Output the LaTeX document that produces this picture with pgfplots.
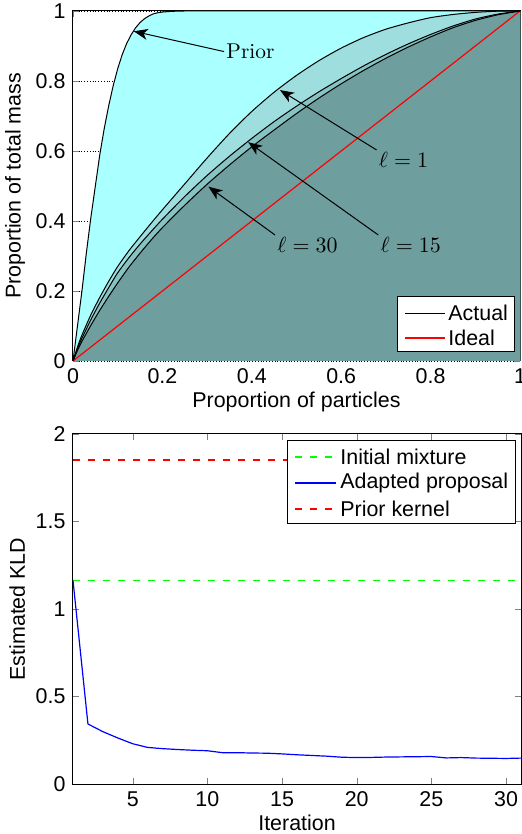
\documentclass[border=0pt]{standalone}
\usepackage{fontspec}
\setsansfont{Liberation Sans}
\usepackage{pgfplots}
\pgfplotsset{compat=1.18}
\usetikzlibrary{arrows.meta}
\definecolor{priorc}{RGB}{170,255,255}
\definecolor{lonec}{RGB}{158,222,222}
\definecolor{lfifc}{RGB}{135,195,195}
\definecolor{lthic}{RGB}{111,158,158}
\pgfplotsset{
  common/.style={
    scale only axis,
    /pgf/number format/assume math mode=true,
    tick align=inside,
    major tick length=3pt,
    axis line style={line width=0.5pt},
    ylabel style={yshift=-2pt},
    xlabel style={yshift=3pt},
  }
}
\tikzset{arr/.style={-{Stealth[length=7pt,width=5.5pt,inset=2pt]}, line width=0.5pt}}
\begin{document}
\sffamily\fontsize{10.7pt}{13pt}\selectfont
\begin{tikzpicture}
\useasboundingbox (-36.5pt,-25pt) rectangle (224pt,392pt);
\begin{axis}[common,
  at={(0,211.5pt)}, anchor=south west,
  width=223.5pt, height=175pt,
  xmin=0, xmax=1, ymin=0, ymax=1,
  xtick={0,0.2,0.4,0.6,0.8,1}, ytick={0,0.2,0.4,0.6,0.8,1},
  ymajorgrids, grid style={densely dotted, black, line width=0.3pt},
  xlabel={Proportion of particles}, ylabel={Proportion of total mass},
]
% fills
\addplot[fill=priorc, draw=none] coordinates {(0,0) (0.01,0.1) (0.02,0.2) (0.03,0.31) (0.04,0.41) (0.05,0.5) (0.06,0.59) (0.07,0.665) (0.08,0.73) (0.09,0.787) (0.10,0.835) (0.11,0.875) (0.12,0.907) (0.13,0.932) (0.14,0.952) (0.15,0.967) (0.16,0.978) (0.17,0.986) (0.18,0.992) (0.19,0.995) (0.2,0.997) (0.22,0.999) (0.25,1) (1,1)} \closedcycle;
\addplot[fill=lonec, draw=none, smooth, tension=0.4] coordinates {(0,0) (0.01,0.04) (0.02,0.074) (0.04,0.132) (0.06,0.182) (0.08,0.228) (0.1,0.27) (0.125,0.315) (0.15,0.355) (0.175,0.394) (0.2,0.432) (0.25,0.506) (0.3,0.58) (0.35,0.65) (0.4,0.713) (0.45,0.768) (0.5,0.816) (0.55,0.858) (0.6,0.894) (0.65,0.924) (0.7,0.948) (0.75,0.966) (0.8,0.981) (0.85,0.99) (0.9,0.996) (0.95,0.9994) (1,1)} \closedcycle;
\addplot[fill=lfifc, draw=none, smooth, tension=0.4] coordinates {(0,0) (0.01,0.035) (0.02,0.065) (0.04,0.118) (0.06,0.166) (0.08,0.21) (0.1,0.252) (0.125,0.295) (0.15,0.334) (0.175,0.37) (0.2,0.405) (0.25,0.47) (0.3,0.53) (0.35,0.585) (0.4,0.636) (0.45,0.684) (0.5,0.728) (0.55,0.769) (0.6,0.807) (0.65,0.843) (0.7,0.876) (0.75,0.906) (0.8,0.933) (0.85,0.957) (0.9,0.977) (0.95,0.991) (1,1)} \closedcycle;
\addplot[fill=lthic, draw=none, smooth, tension=0.4] coordinates {(0,0) (0.01,0.03) (0.02,0.056) (0.04,0.102) (0.06,0.145) (0.08,0.185) (0.1,0.223) (0.125,0.268) (0.15,0.308) (0.175,0.346) (0.2,0.381) (0.25,0.445) (0.3,0.505) (0.35,0.56) (0.4,0.612) (0.45,0.66) (0.5,0.707) (0.55,0.751) (0.6,0.792) (0.65,0.83) (0.7,0.865) (0.75,0.897) (0.8,0.926) (0.85,0.952) (0.9,0.973) (0.95,0.989) (1,1)} \closedcycle;
% curves
\addplot[draw=red, line width=0.6pt] coordinates {(0,0) (1,1)};
\addplot[draw=black, line width=0.5pt] coordinates {(0,0) (0.01,0.1) (0.02,0.2) (0.03,0.31) (0.04,0.41) (0.05,0.5) (0.06,0.59) (0.07,0.665) (0.08,0.73) (0.09,0.787) (0.10,0.835) (0.11,0.875) (0.12,0.907) (0.13,0.932) (0.14,0.952) (0.15,0.967) (0.16,0.978) (0.17,0.986) (0.18,0.992) (0.19,0.995) (0.2,0.997) (0.22,0.999) (0.25,1) (1,1)};
\addplot[draw=black, line width=0.5pt, smooth, tension=0.4] coordinates {(0,0) (0.01,0.04) (0.02,0.074) (0.04,0.132) (0.06,0.182) (0.08,0.228) (0.1,0.27) (0.125,0.315) (0.15,0.355) (0.175,0.394) (0.2,0.432) (0.25,0.506) (0.3,0.58) (0.35,0.65) (0.4,0.713) (0.45,0.768) (0.5,0.816) (0.55,0.858) (0.6,0.894) (0.65,0.924) (0.7,0.948) (0.75,0.966) (0.8,0.981) (0.85,0.99) (0.9,0.996) (0.95,0.9994) (1,1)};
\addplot[draw=black, line width=0.5pt, smooth, tension=0.4] coordinates {(0,0) (0.01,0.035) (0.02,0.065) (0.04,0.118) (0.06,0.166) (0.08,0.21) (0.1,0.252) (0.125,0.295) (0.15,0.334) (0.175,0.37) (0.2,0.405) (0.25,0.47) (0.3,0.53) (0.35,0.585) (0.4,0.636) (0.45,0.684) (0.5,0.728) (0.55,0.769) (0.6,0.807) (0.65,0.843) (0.7,0.876) (0.75,0.906) (0.8,0.933) (0.85,0.957) (0.9,0.977) (0.95,0.991) (1,1)};
\addplot[draw=black, line width=0.5pt, smooth, tension=0.4] coordinates {(0,0) (0.01,0.03) (0.02,0.056) (0.04,0.102) (0.06,0.145) (0.08,0.185) (0.1,0.223) (0.125,0.268) (0.15,0.308) (0.175,0.346) (0.2,0.381) (0.25,0.445) (0.3,0.505) (0.35,0.56) (0.4,0.612) (0.45,0.66) (0.5,0.707) (0.55,0.751) (0.6,0.792) (0.65,0.83) (0.7,0.865) (0.75,0.897) (0.8,0.926) (0.85,0.952) (0.9,0.973) (0.95,0.989) (1,1)};
% legend (drawn by hand: box, samples, then texts)
\draw[fill=white, draw=black, line width=0.5pt] (axis description cs:0.725,0.026) rectangle (axis description cs:0.987,0.183);
\draw[draw=black, line width=0.5pt] (axis description cs:0.743,0.137) -- (axis description cs:0.832,0.137);
\draw[draw=red, line width=0.9pt] (axis description cs:0.743,0.066) -- (axis description cs:0.832,0.066);
\node[anchor=west, inner sep=0pt] at (axis description cs:0.839,0.137) {Actual};
\node[anchor=west, inner sep=0pt] at (axis description cs:0.839,0.066) {Ideal};
% annotations
\draw[arr] (axis cs:0.338,0.884) -- (axis cs:0.136,0.942);
\draw[arr] (axis cs:0.679,0.603) -- (axis cs:0.463,0.774);
\draw[arr] (axis cs:0.683,0.36) -- (axis cs:0.392,0.625);
\draw[arr] (axis cs:0.452,0.36) -- (axis cs:0.303,0.498);
\node[font=\rmfamily, anchor=west, inner sep=1pt] at (axis cs:0.338,0.884) {Prior};
\node[font=\rmfamily, anchor=north west, inner sep=1pt] at (axis cs:0.679,0.603) {$\ell=1$};
\node[font=\rmfamily, anchor=north west, inner sep=1pt] at (axis cs:0.683,0.36) {$\ell=15$};
\node[font=\rmfamily, anchor=north west, inner sep=1pt] at (axis cs:0.452,0.36) {$\ell=30$};
\end{axis}
\begin{axis}[common,
  at={(0,0)}, anchor=south west,
  width=224pt, height=175pt,
  xmin=1, xmax=31, ymin=0, ymax=2,
  xtick={5,10,15,20,25,30}, ytick={0,0.5,1,1.5,2},
  xlabel={Iteration}, ylabel={Estimated KLD},
]
\addplot[draw=red, line width=0.9pt, dash pattern=on 3.5pt off 4pt] coordinates {(1,1.853) (31,1.853)};
\addplot[draw=green, line width=0.7pt, dash pattern=on 3.5pt off 4pt] coordinates {(1,1.163) (31,1.163)};
\addplot[draw=blue, line width=0.6pt] coordinates {(1,1.163) (2,0.343) (3,0.299) (4,0.263) (5,0.23) (6,0.209) (7,0.202) (8,0.197) (9,0.193) (10,0.19) (11,0.179) (12,0.179) (13,0.177) (14,0.176) (15,0.172) (16,0.167) (17,0.163) (18,0.159) (19,0.153) (20,0.151) (21,0.152) (22,0.154) (23,0.155) (24,0.156) (25,0.157) (26,0.149) (27,0.151) (28,0.148) (29,0.147) (30,0.146) (31,0.148)};
% legend (drawn by hand: box, samples, then texts)
\draw[fill=white, draw=black, line width=0.5pt] (axis description cs:0.478,0.743) rectangle (axis description cs:0.987,0.98);
\draw[draw=green, line width=0.7pt, dash pattern=on 3.5pt off 4pt] (axis description cs:0.496,0.934) -- (axis description cs:0.588,0.934);
\draw[draw=blue, line width=0.6pt] (axis description cs:0.496,0.860) -- (axis description cs:0.588,0.860);
\draw[draw=red, line width=0.7pt, dash pattern=on 3.5pt off 4pt] (axis description cs:0.496,0.786) -- (axis description cs:0.588,0.786);
\node[anchor=west, inner sep=0pt] at (axis description cs:0.596,0.934) {Initial mixture};
\node[anchor=west, inner sep=0pt] at (axis description cs:0.596,0.860) {Adapted proposal};
\node[anchor=west, inner sep=0pt] at (axis description cs:0.596,0.786) {Prior kernel};
\end{axis}
\end{tikzpicture}
\end{document}
